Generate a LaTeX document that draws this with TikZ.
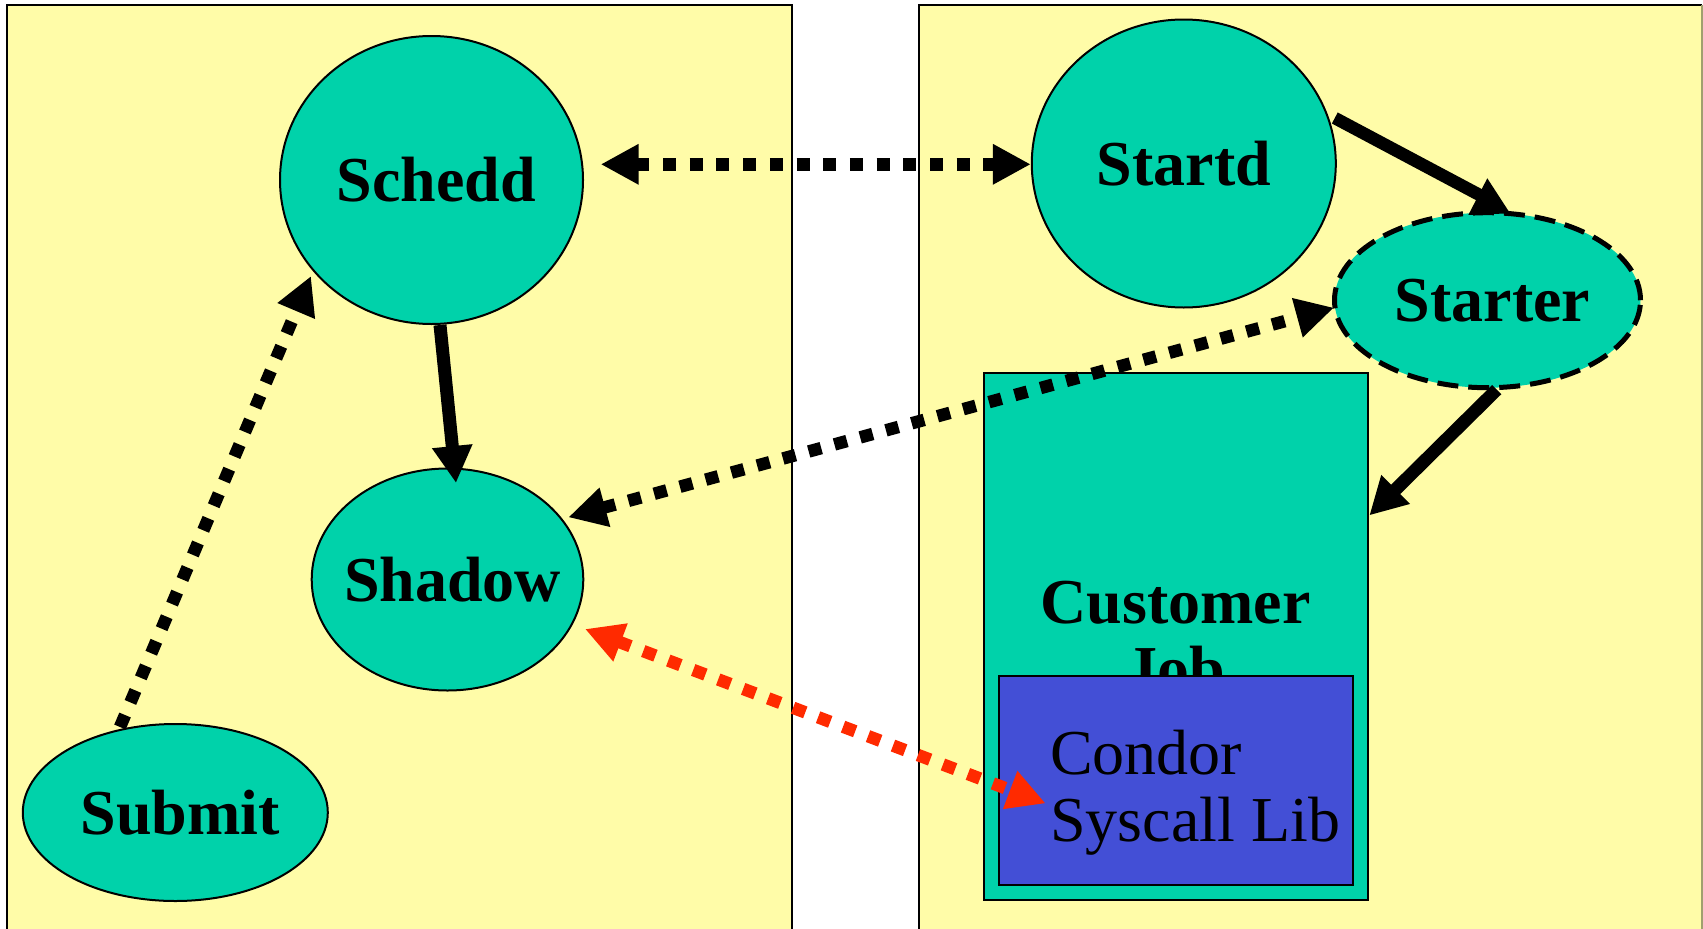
\documentclass[tikz,border=0pt]{standalone}
\usepackage{fontspec}
\setmainfont{Liberation Serif}
\usetikzlibrary{arrows.meta,shapes.geometric}
\definecolor{panelyellow}{HTML}{FFFCA8}
\definecolor{nodeteal}{HTML}{00D2AA}
\definecolor{libblue}{HTML}{434FD6}
\definecolor{arrowred}{HTML}{FF2A00}
\definecolor{edgeolive}{RGB}{160,160,110}
\begin{document}
\begin{tikzpicture}[x=1pt,y=-1pt,
  proc/.style={ellipse, draw=black, line width=2pt, fill=nodeteal, inner sep=0pt,
    font={\fontsize{64}{67}\selectfont\bfseries}},
  boxnode/.style={rectangle, draw=black, line width=2pt, inner sep=0pt},
  panel/.style={line width=2pt, draw=black},
  dotarrow/.style={line width=12.5pt, dash pattern=on 13pt off 13.7pt,
    {Triangle[length=38pt,width=38pt]}-{Triangle[length=38pt,width=38pt]}},
  dotarrowone/.style={line width=12.5pt, dash pattern=on 13pt off 13.7pt,
    -{Triangle[length=38pt,width=38pt]}},
  solidarrow/.style={line width=13pt, -{Triangle[length=37pt,width=38pt]}},
]
\useasboundingbox (0,0) rectangle (1703,929);
\clip (0,0) rectangle (1703,929);
\fill[white] (0,0) rectangle (1703,929);

% panels
\fill[panelyellow] (6.5,5) rectangle (791.7,940);
\draw[panel] (6.5,940) -- (6.5,5) -- (791.7,5) -- (791.7,940);
\fill[panelyellow] (919.3,5) rectangle (1702,940);
\draw[panel] (919.3,940) -- (919.3,5) -- (1701.5,5);
\draw[line width=2pt, edgeolive] (1701.5,5) -- (1701.5,940);

% nodes
\node[proc, minimum width=303pt, minimum height=288pt] (schedd) at (431.5,180) {\makebox[0pt]{\hspace*{10pt}Schedd}};
\node[proc, minimum width=271.6pt, minimum height=222pt] (shadow) at (447.5,579.5) {\makebox[0pt]{\hspace*{10pt}Shadow}};
\node[proc, minimum width=305pt, minimum height=177pt] (submit) at (175.3,812.5) {\makebox[0pt]{\hspace*{10pt}Submit}};
\node[proc, minimum width=304pt, minimum height=288pt] (startd) at (1183.8,163.5) {\makebox[0pt]{Startd}};
\node[proc, minimum width=306pt, minimum height=175pt, line width=5pt, dash pattern=on 21pt off 10pt] (starter) at (1487.5,300.2) {\makebox[0pt]{\hspace*{10pt}Starter}};
\node[boxnode, fill=nodeteal, minimum width=384pt, minimum height=527pt, align=center,
  font={\fontsize{64}{67}\selectfont\bfseries}] (job) at (1175.6,636.4) {Customer\\Job};
\node[boxnode, fill=libblue, minimum width=353.4pt, minimum height=208.6pt] (lib) at (1176,780.7) {};
\node[anchor=north west, inner sep=0pt, align=left, font={\fontsize{64}{67}\selectfont}]
  (libtext) at ([shift={(51.7,-50.8)}]lib.west) {Condor\\Syscall Lib};

% connectors
\draw[dotarrow] ([shift={(169.2,-15.7)}]schedd.center) -- ([shift={(0,0.8)}]startd.west);
\draw[solidarrow] ([shift={(8.5,145)}]schedd.center) -- ([shift={(8.5,-96.5)}]shadow.center);
\draw[dotarrowone] ([shift={(-55.3,-85.5)}]submit.center) -- ([shift={(-120.5,96)}]schedd.center);
\draw[line width=12.5pt] ([shift={(151,-45.5)}]startd.center) -- ([shift={(-7.5,-105)}]starter.center);
\fill ([shift={(-19.2,-85.2)}]starter.center) -- ([shift={(-0.2,-121.9)}]starter.center)
  -- ([shift={(22.5,-86.9)}]starter.center) -- cycle;
\draw[solidarrow] ([shift={(9.2,89.4)}]starter.center) -- ([shift={(0.7,-121)}]job.east);
\draw[dotarrow] ([shift={(120.8,-62.2)}]shadow.center) -- ([shift={(-153.5,7.5)}]starter.center);
\draw[dotarrow, arrowred] ([shift={(137.5,49.5)}]shadow.center) -- ([shift={(47.4,22.7)}]lib.west);
\end{tikzpicture}
\end{document}
